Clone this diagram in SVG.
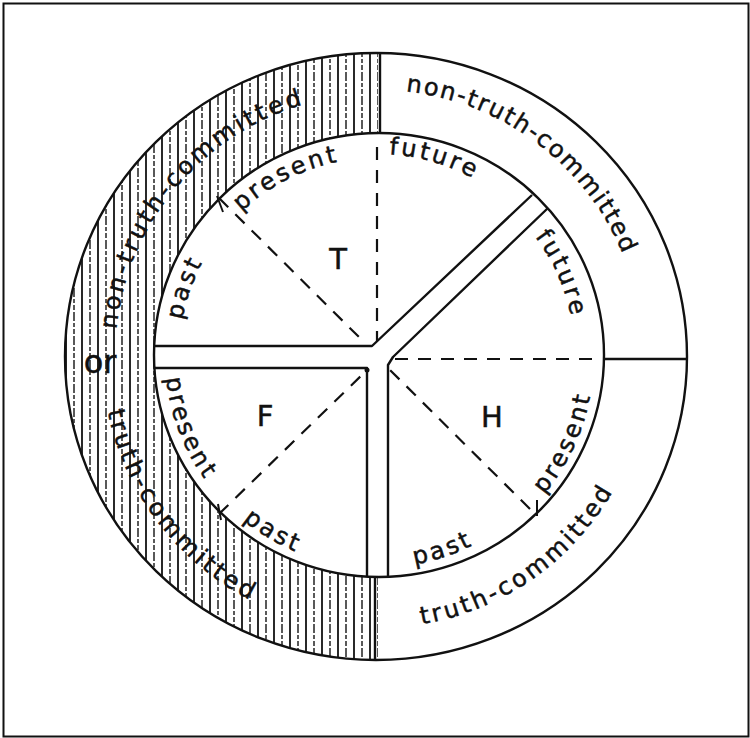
<svg xmlns="http://www.w3.org/2000/svg" width="750" height="738" viewBox="0 0 750 738">
<style>
.ln{fill:none;stroke:#111;stroke-width:2.4;stroke-linejoin:round}
.tk{fill:none;stroke:#111;stroke-width:2}
.ds{fill:none;stroke:#111;stroke-width:2.2;stroke-dasharray:13 10}
.t{font-family:"DejaVu Sans","Liberation Sans",sans-serif;font-size:24px;fill:#111;stroke:#111;stroke-width:0.5}
.cap{font-family:"DejaVu Sans","Liberation Sans",sans-serif;font-size:29px;fill:#111;stroke:#111;stroke-width:0.5;text-anchor:middle}
</style>
<defs>
<pattern id="hatch" patternUnits="userSpaceOnUse" width="16" height="24">
<line x1="2" y1="0" x2="2" y2="24" stroke="#111" stroke-width="1.8"/>
<line x1="10" y1="0" x2="10" y2="24" stroke="#222" stroke-width="1.5" stroke-dasharray="9 2 4 2 5 2"/>
</pattern>
<clipPath id="leftHalf"><rect x="0" y="0" width="378" height="738"/></clipPath>
<path id="pNTCl" d="M162.4,506.3 A262,262 0 0 1 487.7,118.5"/>
<path id="pNTCr" d="M232.1,132.9 A266,266 0 0 1 631.4,433.8"/>
<path id="pTCl" d="M145.6,207.4 A275,275 0 0 0 458.8,618.6"/>
<path id="pTCr" d="M221,578.8 A272,272 0 0 0 639.7,285.6"/>
<path id="pTpast" d="M226.2,484.3 A198,198 0 0 1 341.3,161.2"/>
<path id="pTpres" d="M179.3,345.6 A198,198 0 0 1 484.8,189.9"/>
<path id="pTfut" d="M237.2,210.2 A202,202 0 0 1 573.2,307.8"/>
<path id="pHfut" d="M397.7,159.1 A198,198 0 0 1 537.2,472.4"/>
<path id="pHpres" d="M396.7,572.1 A217,217 0 0 0 554.3,230.9"/>
<path id="pHpast" d="M237.4,515.5 A212,212 0 0 0 585,397.2"/>
<path id="pFpast" d="M165,353.8 A212,212 0 0 0 481.1,540.7"/>
<path id="pFpres" d="M212,222.9 A212,212 0 0 0 344.2,565.5"/>
</defs>
<rect x="0" y="0" width="750" height="738" fill="#fff"/>
<g id="frame"><rect x="3.5" y="3.5" width="745" height="733" fill="none" stroke="#111" stroke-width="2"/></g>
<g id="ring">
<g clip-path="url(#leftHalf)">
<path fill="url(#hatch)" fill-rule="evenodd" d="M65,356.5 A311,303.5 0 1 0 687,356.5 A311,303.5 0 1 0 65,356.5 Z M154,355 A225,222 0 1 0 604,355 A225,222 0 1 0 154,355 Z"/>
</g>
<ellipse class="ln" cx="376" cy="356.5" rx="311" ry="303.5"/>
<ellipse class="ln" cx="379" cy="355" rx="225" ry="222"/>
<line class="ln" x1="380" y1="53" x2="380" y2="133"/>
<line class="ln" x1="375" y1="577" x2="375" y2="660"/>
<line class="ln" x1="604" y1="359" x2="687" y2="359"/>
</g>
<g id="connectors">
<polyline class="ln" points="154,346 372,346 532,195"/>
<polyline class="ln" points="548,208 393,357 388,365 388,577"/>
<polyline class="ln" points="154,368 367,368 367,577"/>
<circle cx="367" cy="370" r="2.5" fill="#111"/>
<line class="ds" x1="377" y1="147" x2="377" y2="341"/>
<line class="ds" x1="219" y1="198" x2="365" y2="343"/>
<line class="ds" x1="219" y1="514" x2="365" y2="372"/>
<line class="ds" x1="530" y1="509" x2="389" y2="369"/>
<line class="ds" x1="592" y1="359" x2="390" y2="359"/>
<line class="tk" x1="217" y1="196" x2="223" y2="212"/>
<line class="tk" x1="218" y1="504" x2="221" y2="520"/>
<line class="tk" x1="537" y1="500" x2="537" y2="516"/>
</g>
<g id="outer-labels">
<text class="t" style="letter-spacing:3.2px"><textPath href="#pNTCl" startOffset="50%" text-anchor="middle">non-truth-committed</textPath></text>
<text class="t" style="letter-spacing:1.8px"><textPath href="#pNTCr" startOffset="50%" text-anchor="middle">non-truth-committed</textPath></text>
<text class="t" style="letter-spacing:3.3px"><textPath href="#pTCl" startOffset="50%" text-anchor="middle">truth-committed</textPath></text>
<text class="t" style="letter-spacing:3px"><textPath href="#pTCr" startOffset="50%" text-anchor="middle">truth-committed</textPath></text>
<text class="t" x="100" y="373" style="font-size:32px" text-anchor="middle">or</text>
</g>
<g id="sector-T">
<text class="cap" x="338" y="269">T</text>
<text class="t" style="letter-spacing:3px"><textPath href="#pTpast" startOffset="50%" text-anchor="middle">past</textPath></text>
<text class="t" style="letter-spacing:3px"><textPath href="#pTpres" startOffset="50%" text-anchor="middle">present</textPath></text>
<text class="t" style="letter-spacing:3px"><textPath href="#pTfut" startOffset="50%" text-anchor="middle">future</textPath></text>
</g>
<g id="sector-H">
<text class="cap" x="492" y="427">H</text>
<text class="t" style="letter-spacing:3px"><textPath href="#pHfut" startOffset="50%" text-anchor="middle">future</textPath></text>
<text class="t" style="letter-spacing:3px"><textPath href="#pHpres" startOffset="50%" text-anchor="middle">present</textPath></text>
<text class="t" style="letter-spacing:3px"><textPath href="#pHpast" startOffset="50%" text-anchor="middle">past</textPath></text>
</g>
<g id="sector-F">
<text class="cap" x="265" y="426">F</text>
<text class="t" style="letter-spacing:3px"><textPath href="#pFpres" startOffset="50%" text-anchor="middle">present</textPath></text>
<text class="t" style="letter-spacing:3px"><textPath href="#pFpast" startOffset="50%" text-anchor="middle">past</textPath></text>
</g>
</svg>
